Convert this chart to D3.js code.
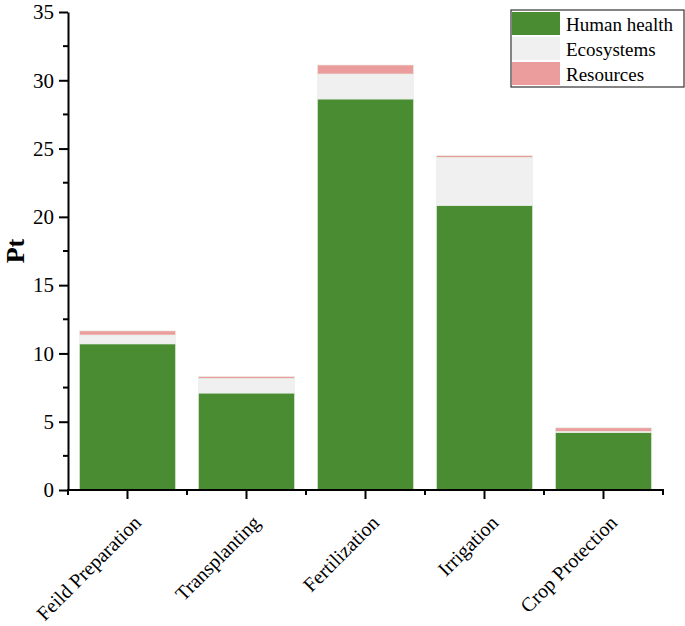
<!DOCTYPE html>
<html>
<head>
<meta charset="utf-8">
<script src="https://cdn.jsdelivr.net/npm/d3@7"></script>
<style>
  body { margin: 0; background: #fff; }
</style>
</head>
<body>
<svg id="chart" width="685" height="626" font-family="'Liberation Serif', 'DejaVu Serif', serif"></svg>
<script>
// data
const categories = ["Feild Preparation", "Transplanting", "Fertilization", "Irrigation", "Crop Protection"];
const humanHealth = [10.7, 7.1, 28.63, 20.84, 4.22];
const ecosystems = [0.65, 1.08, 1.83, 3.52, 0.08];
const resources = [0.3, 0.12, 0.66, 0.12, 0.25];
const seriesNames = ["Human health", "Ecosystems", "Resources"];
const seriesColors = ["#4a8c32", "#f0f0f0", "#eb9c9d"];
const yTicks = [0, 5, 10, 15, 20, 25, 30, 35];

const serif = "'Liberation Serif', 'DejaVu Serif', serif";
const svg = d3.select("#chart");
const margin = { left: 68, right: 22, top: 12, bottom: 136 };
const W = 685, H = 626;

const rows = categories.map((c, i) => ({
  cat: c,
  "Human health": humanHealth[i],
  "Ecosystems": ecosystems[i],
  "Resources": resources[i]
}));
const stacked = d3.stack().keys(seriesNames)(rows);

const x = d3.scaleBand()
  .domain(categories)
  .range([margin.left, W - margin.right])
  .paddingInner(0.193)
  .paddingOuter(0.0965);

const y = d3.scaleLinear()
  .domain([0, 35])
  .range([H - margin.bottom, margin.top]);

// bars
svg.append("g")
  .selectAll("g")
  .data(stacked)
  .join("g")
  .attr("fill", (d, i) => seriesColors[i])
  .selectAll("rect")
  .data(d => d)
  .join("rect")
  .attr("x", d => x(d.data.cat))
  .attr("y", d => y(d[1]))
  .attr("width", x.bandwidth())
  .attr("height", d => y(d[0]) - y(d[1]))
  .attr("stroke", "#e8efe4")
  .attr("stroke-width", 0.6);

// y axis
const yAxis = svg.append("g").attr("transform", `translate(${margin.left},0)`);
yAxis.call(d3.axisLeft(y).tickValues(yTicks).tickSize(9).tickSizeOuter(0).tickPadding(5))
  .attr("font-family", serif)
  .attr("font-size", 21)
  .call(g => g.select(".domain").attr("stroke-width", 2))
  .call(g => g.selectAll(".tick line").attr("stroke-width", 2))
  .call(g => g.selectAll(".tick text").attr("fill", "#000"));
yAxis.selectAll(".minor")
  .data(d3.range(2.5, 35, 5))
  .join("line")
  .attr("x1", -5).attr("x2", 0)
  .attr("y1", d => y(d)).attr("y2", d => y(d))
  .attr("stroke", "#000").attr("stroke-width", 2);

// x axis
const baseY = y(0);
const xAxis = svg.append("g").attr("transform", `translate(0,${baseY})`);
xAxis.append("line")
  .attr("x1", margin.left - 1).attr("x2", W - margin.right + 1)
  .attr("stroke", "#000").attr("stroke-width", 2);
xAxis.selectAll(".major")
  .data(categories)
  .join("line")
  .attr("x1", d => x(d) + x.bandwidth() / 2).attr("x2", d => x(d) + x.bandwidth() / 2)
  .attr("y1", 0).attr("y2", 9)
  .attr("stroke", "#000").attr("stroke-width", 2);
const step = x.step();
xAxis.selectAll(".minor")
  .data(d3.range(categories.length + 1))
  .join("line")
  .attr("x1", i => margin.left + i * step).attr("x2", i => margin.left + i * step)
  .attr("y1", 0).attr("y2", 5)
  .attr("stroke", "#000").attr("stroke-width", 2);
xAxis.selectAll("text")
  .data(categories)
  .join("text")
  .attr("transform", d => `translate(${x(d) + x.bandwidth() / 2 + 10},${29}) rotate(-45)`)
  .attr("text-anchor", "end")
  .attr("font-size", 20)
  .attr("dy", "0.35em")
  .text(d => d);

// y label
svg.append("text")
  .attr("transform", `translate(24,${(margin.top + baseY) / 2}) rotate(-90)`)
  .attr("text-anchor", "middle")
  .attr("font-size", 26)
  .attr("font-weight", "bold")
  .text("Pt");

// legend
const lg = svg.append("g").attr("transform", "translate(511,10)");
lg.append("rect")
  .attr("x", 0).attr("y", 0).attr("width", 173).attr("height", 77)
  .attr("fill", "#fff").attr("stroke", "#333").attr("stroke-width", 1.2);
seriesNames.forEach((s, i) => {
  lg.append("rect")
    .attr("x", 1).attr("y", 2 + i * 25).attr("width", 48).attr("height", 23)
    .attr("fill", seriesColors[i]);
  lg.append("text")
    .attr("x", 55).attr("y", 14 + i * 25)
    .attr("dy", "0.35em")
    .attr("font-size", 19)
    .text(s);
});
</script>
</body>
</html>
